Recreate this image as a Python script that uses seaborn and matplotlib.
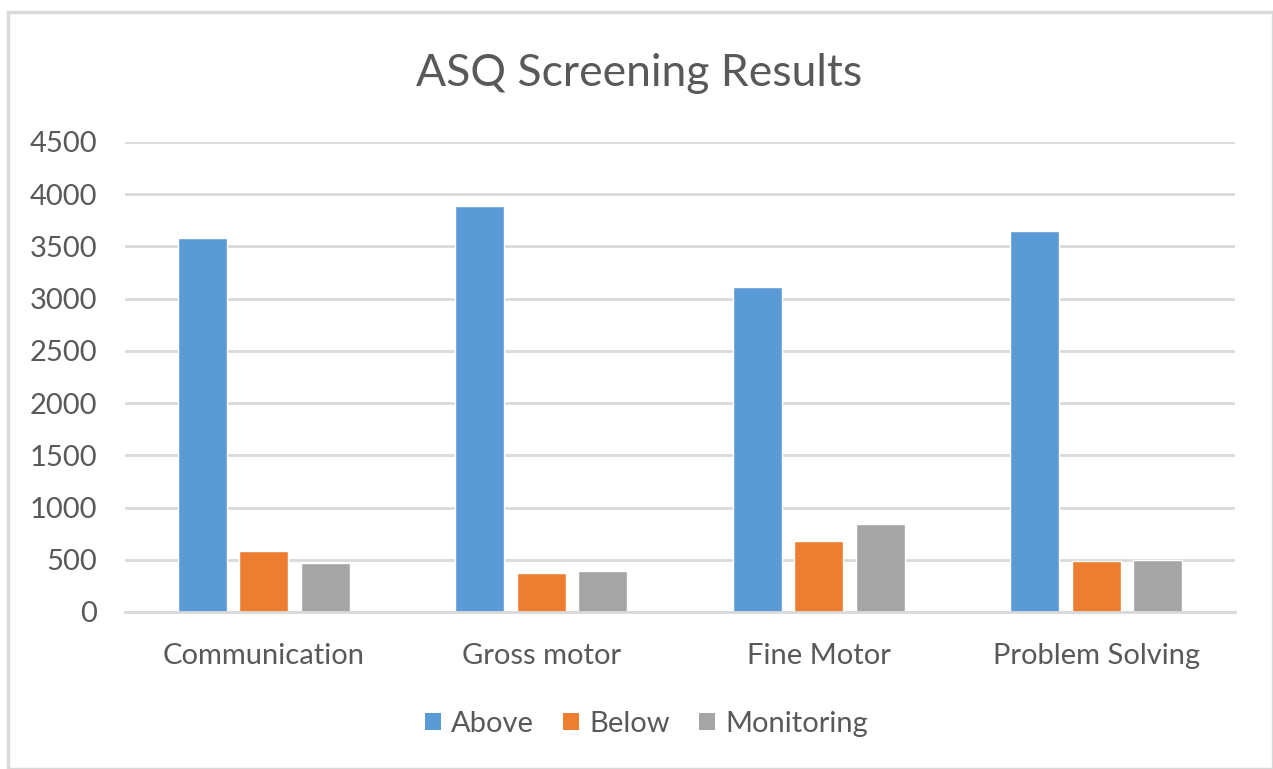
import matplotlib
matplotlib.use("Agg")
import matplotlib.pyplot as plt
import seaborn as sns
import pandas as pd
from matplotlib.patches import Rectangle, Patch

categories = ["Communication", "Gross motor", "Fine Motor", "Problem Solving"]
series_names = ["Above", "Below", "Monitoring"]
above = [3580, 3890, 3110, 3645]
below = [585, 375, 680, 490]
monitoring = [470, 390, 845, 502]
yticks = [0, 500, 1000, 1500, 2000, 2500, 3000, 3500, 4000, 4500]
colors = ["#5B9BD5", "#ED7D31", "#A5A5A5"]

rows = []
for name, vals in zip(series_names, [above, below, monitoring]):
    for c, v in zip(categories, vals):
        rows.append({"Category": c, "Series": name, "Value": v})
df = pd.DataFrame(rows)

sns.set_theme(style="white")
plt.rcParams["font.family"] = ["Lato", "DejaVu Sans"]
text_color = "#595959"

fig = plt.figure(figsize=(12.73, 7.69), dpi=100)
ax = fig.add_axes([125/1273, 1-612/769, (1235-125)/1273, (612-142)/769])

sns.barplot(data=df, x="Category", y="Value", hue="Series", order=categories,
            hue_order=series_names, palette=colors, width=0.665, gap=0.2,
            saturation=1, ax=ax, legend=False)

ax.set_ylim(0, 4500)
ax.set_yticks(yticks)
ax.set_yticklabels([str(t) for t in yticks])
ax.set_xlabel("")
ax.set_ylabel("")
ax.yaxis.grid(True, color="#D9D9D9", linewidth=2)
ax.set_axisbelow(True)
for s in ["top", "right", "left"]:
    ax.spines[s].set_visible(False)
ax.spines["bottom"].set_color("#D9D9D9")
ax.spines["bottom"].set_linewidth(2)
ax.tick_params(axis="both", length=0, labelsize=21, labelcolor=text_color)
ax.tick_params(axis="x", pad=22)
ax.tick_params(axis="y", pad=20)

fig.text(0.5 + 3/1273, 1-73/769, "ASQ Screening Results", ha="center", va="center",
         fontsize=32, color=text_color)

handles = [Patch(facecolor=c, edgecolor="none") for c in colors]
fig.legend(handles, series_names, loc="center", bbox_to_anchor=(0.5 + 10/1273, 1-724/769),
           ncol=3, frameon=False, fontsize=21, labelcolor=text_color,
           handlelength=0.55, handleheight=0.55, handletextpad=0.35, columnspacing=1.0)

fig.patches.append(Rectangle((8/1273, 0), 1 - 8/1273, 1 - 12/769, transform=fig.transFigure,
                             fill=False, edgecolor="#D9D9D9", linewidth=2.5))

fig.savefig("out.png", dpi=100)
